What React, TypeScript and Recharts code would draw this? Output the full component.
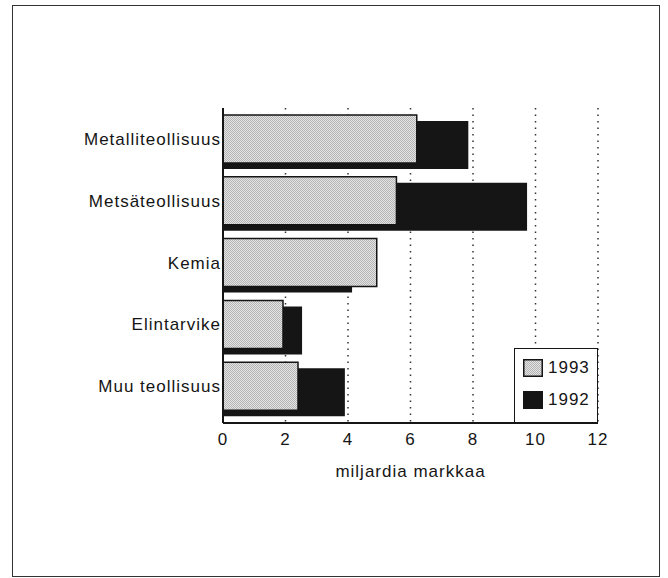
import React from 'react';
import { BarChart, Bar, XAxis, YAxis, CartesianGrid, Legend } from 'recharts';

// teollisuuden toimiala, mrd mk
const categories = ['Metalliteollisuus', 'Metsäteollisuus', 'Kemia', 'Elintarvike', 'Muu teollisuus'];
const values1993 = [6.2, 5.55, 4.92, 1.92, 2.4];
const values1992 = [7.85, 9.73, 4.13, 2.53, 3.9];
const xTicks = [0, 2, 4, 6, 8, 10, 12];
const legendOrder = ['1993', '1992'];

const data = categories.map((name, i) => ({ name, v1993: values1993[i], v1992: values1992[i] }));

const FONT = "'Liberation Sans', Arial, Helvetica, sans-serif";
const INK = '#151515';
const textStyle = { fontFamily: FONT, fontSize: 17, letterSpacing: 1, fill: INK };

const LegendBox = ({ payload }: any) => {
    const items = [...(payload || [])].sort(
        (a: any, b: any) => legendOrder.indexOf(a.value) - legendOrder.indexOf(b.value)
    );
    return (
        <div
            style={{
                width: 84,
                height: 75,
                boxSizing: 'border-box',
                border: `1.5px solid ${INK}`,
                background: '#fff',
                position: 'relative',
                fontFamily: FONT,
            }}
        >
            {items.map((it: any, i: number) => (
                <div
                    key={it.value}
                    style={{ position: 'absolute', left: 8, top: 10 + i * 32, display: 'flex', alignItems: 'center', height: 18 }}
                >
                    <svg width={20} height={18} style={{ display: 'block' }}>
                        <rect
                            x={0.75}
                            y={0.75}
                            width={18.5}
                            height={16.5}
                            fill={it.value === '1993' ? 'url(#stipple)' : INK}
                            stroke={INK}
                            strokeWidth={1.5}
                        />
                    </svg>
                    <span style={{ marginLeft: 5, fontSize: 17, letterSpacing: 1, color: INK, lineHeight: '18px' }}>
                        {it.value}
                    </span>
                </div>
            ))}
        </div>
    );
};

export default function App() {
    return (
        <div style={{ position: 'absolute', left: 0, top: 0, width: 668, height: 578, background: '#fff' }}>
            <div
                style={{
                    position: 'absolute',
                    left: 12,
                    top: 5,
                    width: 648,
                    height: 572,
                    boxSizing: 'border-box',
                    border: '1.5px solid #333',
                }}
            />
            <BarChart
                width={668}
                height={578}
                data={data}
                layout="vertical"
                margin={{ top: 108, right: 70, bottom: 95, left: 0 }}
                style={{ position: 'absolute', left: 0, top: 0 }}
            >
                <defs>
                    <pattern id="stipple" width={2} height={2} patternUnits="userSpaceOnUse">
                        <rect width={2} height={2} fill="#e4e4e4" />
                        <rect width={1} height={1} fill="#b4b4b4" />
                        <rect x={1} y={1} width={1} height={1} fill="#b4b4b4" />
                    </pattern>
                </defs>
                <CartesianGrid
                    horizontal={false}
                    yAxisId="top"
                    stroke="#333"
                    strokeWidth={1.5}
                    strokeDasharray="1.5 5"
                />
                <XAxis
                    type="number"
                    domain={[0, 12]}
                    ticks={xTicks}
                    interval={0}
                    tickLine={false}
                    tickSize={0}
                    tickMargin={10}
                    height={60}
                    axisLine={{ stroke: INK, strokeWidth: 2 }}
                    tick={textStyle}
                    label={{ value: 'miljardia markkaa', position: 'insideBottom', offset: 6, style: textStyle }}
                />
                <YAxis
                    yAxisId="top"
                    type="category"
                    dataKey="name"
                    width={223}
                    padding={{ top: 0, bottom: 6 }}
                    tickLine={false}
                    tickSize={0}
                    tickMargin={2}
                    axisLine={{ stroke: INK, strokeWidth: 2 }}
                    tick={textStyle}
                    interval={0}
                />
                <YAxis yAxisId="low" type="category" dataKey="name" hide width={0} padding={{ top: 6, bottom: 0 }} />
                <Legend
                    layout="vertical"
                    align="center"
                    verticalAlign="middle"
                    content={<LegendBox />}
                    wrapperStyle={{ left: 514, top: 348, width: 84, height: 75 }}
                />
                {/* 1992 first so the 1993 bar is drawn over it */}
                <Bar dataKey="v1992" name="1992" yAxisId="low" barSize={48} fill={INK} isAnimationActive={false} />
                <Bar
                    dataKey="v1993"
                    name="1993"
                    yAxisId="top"
                    barSize={48}
                    fill="url(#stipple)"
                    stroke={INK}
                    strokeWidth={1.5}
                    isAnimationActive={false}
                />
            </BarChart>
        </div>
    );
}
